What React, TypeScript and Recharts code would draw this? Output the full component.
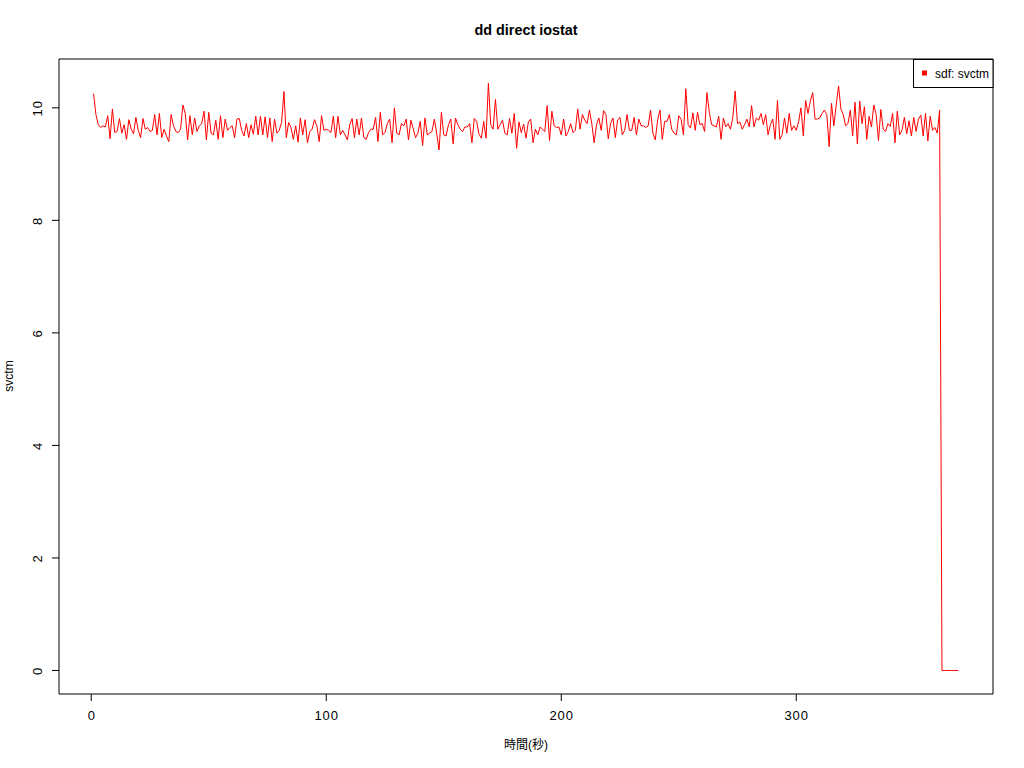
import React from 'react';
import { LineChart, Line, XAxis, YAxis, ReferenceArea } from 'recharts';

const chartTitle = 'dd direct iostat';
const xAxisLabel = '時間(秒)';
const yAxisLabel = 'svctm';
const seriesName = 'sdf: svctm';
const xTicks = [0, 100, 200, 300];
const yTicks = [0, 2, 4, 6, 8, 10];

// svctm per second, t = 1 .. 369
const svctm: number[] = [
  10.25, 9.88, 9.70, 9.65, 9.68, 9.66, 9.86, 9.45, 9.98, 9.56,
  9.58, 9.81, 9.55, 9.70, 9.44, 9.79, 9.62, 9.54, 9.83, 9.60,
  9.47, 9.81, 9.62, 9.65, 9.58, 9.60, 9.88, 9.52, 9.90, 9.47,
  9.62, 9.50, 9.40, 9.88, 9.68, 9.58, 9.56, 9.62, 10.05, 9.90,
  9.43, 9.86, 9.52, 9.82, 9.58, 9.68, 9.72, 9.94, 9.43, 9.92,
  9.55, 9.52, 9.78, 9.44, 9.86, 9.47, 9.80, 9.60, 9.65, 9.68,
  9.47, 9.80, 9.81, 9.60, 9.50, 9.72, 9.47, 9.70, 9.53, 9.85,
  9.52, 9.85, 9.52, 9.84, 9.47, 9.82, 9.40, 9.80, 9.55, 9.60,
  9.74, 10.29, 9.47, 9.74, 9.65, 9.44, 9.68, 9.39, 9.82, 9.52,
  9.79, 9.38, 9.58, 9.62, 9.79, 9.68, 9.40, 9.86, 9.60, 9.62,
  9.60, 9.56, 9.85, 9.47, 9.85, 9.52, 9.60, 9.52, 9.43, 9.70,
  9.81, 9.47, 9.80, 9.52, 9.82, 9.47, 9.44, 9.56, 9.62, 9.62,
  9.83, 9.40, 9.92, 9.52, 9.56, 9.72, 9.80, 9.38, 10.00, 9.55,
  9.52, 9.72, 9.68, 9.80, 9.43, 9.78, 9.63, 9.47, 9.55, 9.76,
  9.33, 9.82, 9.52, 9.55, 9.58, 9.80, 9.55, 9.25, 9.92, 9.52,
  9.50, 9.70, 9.80, 9.36, 9.82, 9.70, 9.62, 9.58, 9.66, 9.66,
  9.72, 9.38, 9.81, 9.76, 9.53, 9.46, 9.76, 9.46, 10.44, 9.70,
  9.62, 10.15, 9.62, 9.70, 9.78, 9.55, 9.52, 9.81, 9.55, 9.90,
  9.28, 9.75, 9.56, 9.71, 9.46, 9.75, 9.80, 9.38, 9.62, 9.52,
  9.66, 9.62, 9.58, 10.04, 9.42, 9.94, 9.68, 9.65, 9.66, 9.52,
  9.80, 9.50, 9.58, 9.72, 9.56, 9.60, 9.98, 9.62, 9.88, 9.78,
  9.72, 9.96, 9.72, 9.38, 9.70, 9.82, 9.60, 9.95, 9.88, 9.45,
  9.72, 9.82, 9.47, 9.79, 9.83, 9.52, 9.60, 9.88, 9.60, 9.60,
  9.83, 9.52, 9.80, 9.68, 9.68, 9.65, 9.68, 9.96, 9.55, 9.43,
  9.78, 9.96, 9.44, 9.76, 9.76, 9.88, 9.62, 9.55, 9.52, 9.86,
  9.80, 9.52, 10.34, 9.70, 9.64, 9.91, 9.60, 9.92, 9.70, 9.72,
  9.58, 10.27, 9.92, 9.70, 9.68, 9.66, 9.85, 9.44, 9.82, 9.66,
  9.72, 9.62, 9.83, 10.30, 9.72, 9.75, 9.62, 9.70, 9.80, 9.66,
  10.04, 9.66, 9.82, 9.78, 9.90, 9.70, 9.88, 9.52, 9.70, 9.80,
  9.44, 10.13, 9.44, 9.52, 9.82, 9.55, 9.90, 9.60, 9.68, 9.60,
  9.75, 10.00, 9.50, 10.13, 9.90, 10.12, 10.27, 9.80, 9.80, 9.82,
  9.90, 9.96, 9.88, 9.31, 10.08, 9.68, 10.05, 10.39, 9.98, 9.88,
  9.68, 9.72, 9.96, 9.50, 10.10, 9.36, 10.12, 9.72, 10.02, 9.44,
  9.85, 9.66, 10.05, 9.88, 9.42, 9.97, 9.62, 9.58, 9.72, 9.67,
  9.90, 9.38, 9.94, 9.52, 9.60, 9.83, 9.54, 9.77, 9.50, 9.83,
  9.58, 9.80, 9.87, 9.50, 9.90, 9.41, 9.85, 9.60, 9.65, 9.55,
  9.96, 0, 0, 0, 0, 0, 0, 0, 0,
];

const data = svctm.map((v, i) => ({ t: i + 1, v }));

const FONT = '"Liberation Sans", Arial, "Noto Sans CJK JP", sans-serif';
const X_DOMAIN: [number, number] = [-13.72, 383.72];
const Y_DOMAIN: [number, number] = [-0.418, 10.868];

const XTick = (props: any) => {
  const { x, y, payload } = props;
  return (
    <text x={x + 0.5} y={y + 17} textAnchor="middle" fontSize={13} letterSpacing={1} fontFamily={FONT} fill="#000">
      {payload.value}
    </text>
  );
};

const YTick = (props: any) => {
  const { x, y, payload } = props;
  const tx = x - 8;
  return (
    <text
      x={tx}
      y={y + 0.5}
      transform={`rotate(-90, ${tx}, ${y + 0.5})`}
      textAnchor="middle"
      fontSize={13}
      letterSpacing={1}
      fontFamily={FONT}
      fill="#000"
    >
      {payload.value}
    </text>
  );
};

export default function App() {
  return (
    <div style={{ position: 'absolute', left: 0, top: 0, width: 1024, height: 768, background: '#fff' }}>
      <LineChart
        width={1024}
        height={768}
        data={data}
        margin={{ top: 59, right: 31, bottom: 34, left: 19 }}
      >
        <XAxis
          type="number"
          dataKey="t"
          domain={X_DOMAIN}
          ticks={xTicks}
          allowDataOverflow
          height={40}
          axisLine={false}
          tickSize={7}
          tickLine={{ stroke: '#000' }}
          tick={<XTick />}
          interval={0}
        />
        <YAxis
          type="number"
          domain={Y_DOMAIN}
          ticks={yTicks}
          allowDataOverflow
          width={40}
          axisLine={false}
          tickSize={7}
          tickLine={{ stroke: '#000' }}
          tick={<YTick />}
          interval={0}
        />
        <ReferenceArea
          x1={X_DOMAIN[0]}
          x2={X_DOMAIN[1]}
          y1={Y_DOMAIN[0]}
          y2={Y_DOMAIN[1]}
          fill="none"
          fillOpacity={0}
          stroke="#000"
          strokeWidth={1}
          ifOverflow="visible"
        />
        <Line
          type="linear"
          dataKey="v"
          stroke="#ff0000"
          strokeWidth={1}
          dot={false}
          isAnimationActive={false}
        />
      </LineChart>
      <svg
        width={1024}
        height={768}
        style={{ position: 'absolute', left: 0, top: 0, pointerEvents: 'none' }}
      >
        <text x={526} y={35} textAnchor="middle" fontSize={14.4} fontWeight="bold" fontFamily={FONT} fill="#000">
          {chartTitle}
        </text>
        <text x={526} y={749} textAnchor="middle" fontSize={12} fontFamily={FONT} fill="#000">
          {xAxisLabel}
        </text>
        <text
          x={13}
          y={376}
          transform="rotate(-90, 13, 376)"
          textAnchor="middle"
          fontSize={12}
          fontFamily={FONT}
          fill="#000"
        >
          {yAxisLabel}
        </text>
        <rect x={913.5} y={59.5} width={79.5} height={28} fill="#fff" stroke="#000" strokeWidth={1} />
        <rect x={922} y={70.5} width={5} height={5} fill="#ff0000" />
        <text x={935} y={77.5} fontSize={12} fontFamily={FONT} fill="#000">
          {seriesName}
        </text>
      </svg>
    </div>
  );
}
